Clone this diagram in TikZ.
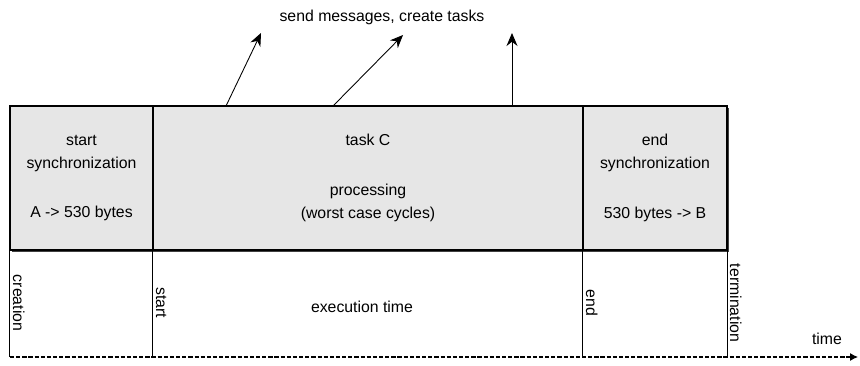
\documentclass[tikz,border=0pt]{standalone}
\usepackage{fontspec}
\setmainfont{Liberation Sans}
\usetikzlibrary{arrows.meta}

\definecolor{cellgray}{HTML}{E6E6E6}

\tikzset{
    cell/.style={draw, fill=cellgray, line width=0.6pt, minimum height=2.88cm,
        align=center, inner sep=0pt},
    mark line/.style={line width=0.6pt},
    timeaxis/.style={line width=0.6pt, dash pattern=on 2.4pt off 1.1pt,
        -{Latex[length=1.6mm,width=1.6mm]}},
    send/.style={line width=0.5pt, -{Stealth[length=2.6mm,width=2.2mm]}},
    event/.style={rotate=-90, anchor=south, inner sep=1.5pt}
}

\begin{document}
\begin{tikzpicture}[font=\fontsize{9}{13.2}\selectfont]
    \useasboundingbox (0,0) rectangle (17.2,7.3);

    % shadow behind the task row
    \fill[black!75] (0.235,2.265) rectangle (14.575,5.145);

    % the three phases of the task
    \node[cell, minimum width=2.86cm] (startsync) at (1.63,3.74)
        {start\\synchronization\\[15pt]A -> 530 bytes};
    \node[cell, minimum width=8.6cm] (task) at (7.36,3.74)
        {task C\\[15pt]processing\\(worst case cycles)};
    \node[cell, minimum width=2.88cm] (endsync) at (13.10,3.74)
        {end\\synchronization\\[15pt]530 bytes -> B};

    % time axis
    \coordinate (t0) at (0.2,0.16);
    \coordinate (t1) at (17.16,0.16);
    \draw[timeaxis] (t0) -- (t1);
    \node (time) at (16.54,0.52) {time};

    % event marks down to the axis
    \draw[mark line] (startsync.south west) -- (startsync.south west |- t0);
    \draw[mark line] (task.south west) -- (task.south west |- t0);
    \draw[mark line] (endsync.south west) -- (endsync.south west |- t0);
    \draw[mark line] (endsync.south east) -- (endsync.south east |- t0);

    \node[event] (creation) at (0.2,1.24) {creation};
    \node[event] (startev) at (3.06,1.24) {start};
    \node[event] (endev) at (11.66,1.24) {end};
    \node[event] (termination) at (14.54,1.24) {termination};
    \node (exec) at (7.24,1.16) {execution time};

    % messages and new tasks
    \node (msg) at (7.64,6.96) {send messages, create tasks};
    \coordinate (s1) at (4.52,5.18);
    \coordinate (s2) at (6.66,5.18);
    \coordinate (s3) at (10.24,5.18);
    \coordinate (d1) at (5.22,6.64);
    \coordinate (d2) at (8.06,6.60);
    \coordinate (d3) at (10.24,6.64);
    \draw[send] (s1) -- (d1);
    \draw[send] (s2) -- (d2);
    \draw[send] (s3) -- (d3);
\end{tikzpicture}
\end{document}
